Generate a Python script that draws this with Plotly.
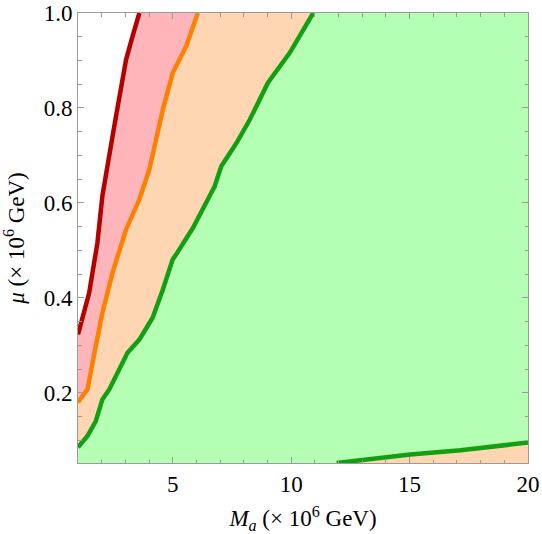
import plotly.graph_objects as go

# Axis limits
x_min, x_max = 1.0, 20.0
y_min, y_max = 0.052, 1.0

# Boundary curves
red_x = [1.0, 1.47, 1.82, 2.03, 2.53, 3.03, 3.3, 3.59]
red_y = [0.323, 0.41, 0.516, 0.615, 0.761, 0.902, 0.95, 1.0]

orange_x = [1.0, 1.4, 1.75, 2.03, 2.46, 3.03, 3.59, 4.01, 4.58, 5.0, 5.57, 6.06]
orange_y = [0.18, 0.207, 0.298, 0.368, 0.453, 0.544, 0.607, 0.67, 0.796, 0.874, 0.93, 1.0]

green_x = [1.0, 1.4, 1.75, 2.03, 2.32, 2.6, 3.09, 3.59, 4.15, 4.58, 5.0, 5.14, 5.85,
           6.48, 6.77, 7.05, 7.69, 8.25, 9.02, 9.94, 10.93]
green_y = [0.085, 0.109, 0.14, 0.186, 0.207, 0.235, 0.284, 0.312, 0.358, 0.417, 0.481,
           0.491, 0.547, 0.607, 0.635, 0.677, 0.726, 0.775, 0.853, 0.916, 1.0]

low_x = [11.92, 13.5, 15.03, 17.15, 20.0]
low_y = [0.052, 0.062, 0.07, 0.079, 0.095]

pink = "#FFB5BA"
peach = "#FFD6B1"
lightgreen = "#B4FFB4"
c_red = "#B30000"
c_orange = "#FF8000"
c_green = "#12A012"

fig = go.Figure()

def region(xs, ys, color):
    # region to the right of the curve: curve + right side corners
    px = list(xs) + [x_max, x_max, xs[0]]
    py = list(ys) + [y_max, y_min, y_min]
    fig.add_trace(go.Scatter(x=px, y=py, fill="toself", fillcolor=color,
                             line=dict(width=0), mode="lines", hoverinfo="skip",
                             showlegend=False))

region(red_x, red_y, pink)
region(orange_x, orange_y, peach)
region(green_x, green_y, lightgreen)
# peach region below the lower green boundary
fig.add_trace(go.Scatter(x=low_x + [x_max, low_x[0]], y=low_y + [y_min, y_min],
                         fill="toself", fillcolor=peach, line=dict(width=0),
                         mode="lines", hoverinfo="skip", showlegend=False))

for xs, ys, c in [(red_x, red_y, c_red), (orange_x, orange_y, c_orange),
                  (green_x, green_y, c_green), (low_x, low_y, c_green)]:
    fig.add_trace(go.Scatter(x=xs, y=ys, mode="lines",
                             line=dict(color=c, width=4.5), showlegend=False,
                             cliponaxis=True))

font = dict(family="Liberation Serif", size=23, color="black")
axis_common = dict(showgrid=False, zeroline=False, showline=True, linecolor="#9a9a9a",
                   linewidth=1, mirror="allticks", ticks="inside", ticklen=6,
                   tickcolor="#9a9a9a", tickfont=font, automargin=False)

fig.update_xaxes(range=[x_min, x_max], tickvals=[5, 10, 15, 20],
                 minor=dict(dtick=1, tick0=0, ticks="inside", ticklen=3.5, tickcolor="#9a9a9a"),
                 title=dict(text="<i>M</i><sub><i>a</i></sub> (× 10<sup>6</sup> GeV)",
                            font=font, standoff=20),
                 **axis_common)
fig.update_yaxes(range=[y_min, y_max], tickvals=[0.2, 0.4, 0.6, 0.8, 1.0],
                 ticktext=["0.2", "0.4", "0.6", "0.8", "1.0"],
                 minor=dict(dtick=0.05, tick0=0, ticks="inside", ticklen=3.5, tickcolor="#9a9a9a"),
                 title=dict(text="<i>μ</i> (× 10<sup>6</sup> GeV)", font=font, standoff=14),
                 **axis_common)

fig.update_layout(width=542, height=534, margin=dict(l=78, r=14, t=13, b=71),
                  plot_bgcolor="white", paper_bgcolor="white")

fig.write_html("out.html")
